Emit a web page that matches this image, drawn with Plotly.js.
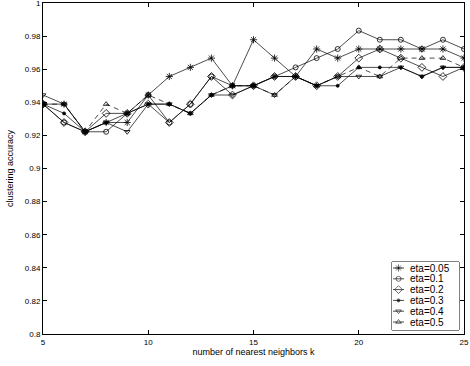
<!DOCTYPE html>
<html>
<head>
<meta charset="utf-8">
<script src="https://cdn.plot.ly/plotly-3.0.1.min.js"></script>
<style>
html,body{margin:0;padding:0;background:#fff;}
#chart{width:470px;height:366px;}
</style>
</head>
<body>
<div id="chart"></div>
<script>
// ---- data ----
var kValues = [5,6,7,8,9,10,11,12,13,14,15,16,17,18,19,20,21,22,23,24,25];
var seriesNames = ["eta=0.05","eta=0.1","eta=0.2","eta=0.3","eta=0.4","eta=0.5"];
var eta005 = [0.9389,0.9389,0.9222,0.9278,0.9278,0.9444,0.9556,0.9611,0.9667,0.9500,0.9778,0.9667,0.9556,0.9722,0.9667,0.9722,0.9722,0.9722,0.9722,0.9722,0.9667];
var eta01  = [0.9389,0.9278,0.9222,0.9222,0.9333,0.9444,0.9278,0.9389,0.9556,0.9500,0.9500,0.9556,0.9611,0.9667,0.9722,0.9833,0.9778,0.9778,0.9722,0.9778,0.9722];
var eta02  = [0.9389,0.9278,0.9222,0.9333,0.9333,0.9389,0.9278,0.9389,0.9556,0.9444,0.9500,0.9556,0.9556,0.9500,0.9556,0.9667,0.9722,0.9667,0.9611,0.9556,0.9611];
var eta03  = [0.9389,0.9333,0.9222,0.9278,0.9333,0.9389,0.9389,0.9333,0.9444,0.9500,0.9500,0.9556,0.9556,0.9500,0.9500,0.9611,0.9611,0.9611,0.9556,0.9611,0.9611];
var eta04  = [0.9444,0.9389,0.9222,0.9278,0.9222,0.9389,0.9389,0.9333,0.9444,0.9444,0.9500,0.9444,0.9556,0.9500,0.9556,0.9556,0.9556,0.9611,0.9556,0.9611,0.9611];
var eta05  = [0.9389,0.9389,0.9222,0.9389,0.9333,0.9444,0.9389,0.9333,0.9444,0.9500,0.9500,0.9444,0.9556,0.9500,0.9556,0.9611,0.9556,0.9667,0.9667,0.9667,0.9611];
var xTicks = [5,10,15,20,25];
var yTicks = [0.8,0.82,0.84,0.86,0.88,0.9,0.92,0.94,0.96,0.98,1];

// ---- styles ----
var allSeries = [eta005, eta01, eta02, eta03, eta04, eta05];
var styles = [
  {symbol:'asterisk-open', size:6, dash:'solid'},
  {symbol:'circle-open', size:5, dash:'solid'},
  {symbol:'diamond-open', size:6, dash:'solid'},
  {symbol:'circle', size:3, dash:'solid'},
  {symbol:'triangle-down-open', size:5, dash:'solid'},
  {symbol:'triangle-up-open', size:5, dash:'5px,4px'}
];

var traces = [];
allSeries.forEach(function(vals, i){
  traces.push({
    x: kValues, y: vals, type:'scatter', mode:'lines+markers',
    name: seriesNames[i], showlegend:false,
    line:{color:'#000', width:0.7, dash:styles[i].dash},
    marker:{symbol:styles[i].symbol, size:styles[i].size, color:'#000',
            line:{color:'#000', width:0.8}},
    xaxis:'x', yaxis:'y', hoverinfo:'skip'
  });
});

// ---- custom legend (drawn on an auxiliary hidden axis pair) ----
var annotations = [];
seriesNames.forEach(function(nm, i){
  traces.push({
    x:[393, 398.5, 404], y:[i,i,i], type:'scatter', mode:'lines+markers',
    showlegend:false, xaxis:'x2', yaxis:'y2', hoverinfo:'skip',
    line:{color:'#000', width:0.7},
    marker:{symbol:styles[i].symbol, size:[0, styles[i].size, 0], color:'#000',
            line:{color:'#000', width:0.8}}
  });
  annotations.push({
    x:408, y:i, xref:'x2', yref:'y2', text:nm, showarrow:false,
    xanchor:'left', yanchor:'middle',
    font:{family:'Liberation Sans, Arial, sans-serif', size:10, color:'#000'}
  });
});

var L = 43, R = 6, T = 3, B = 32, W = 470, H = 366;
var pw = W - L - R, ph = H - T - B;
function px2x(p){ return (p - L) / pw; }
function py2y(p){ return (H - B - p) / ph; }
var boxX0 = 392, boxX1 = 459, boxY0 = 262, boxY1 = 330;

var layout = {
  width: W, height: H,
  margin:{l:L, r:R, t:T, b:B, pad:0},
  paper_bgcolor:'#fff', plot_bgcolor:'#fff',
  font:{family:'Liberation Sans, Arial, sans-serif', size:8, color:'#000'},
  xaxis:{
    range:[5,25], tickvals:xTicks, ticks:'inside', ticklen:4, tickwidth:1,
    tickcolor:'#000', showline:true, linecolor:'#000', linewidth:1,
    mirror:'ticks', showgrid:false, zeroline:false, domain:[0,1],
    tickfont:{size:8}, automargin:false, ticklabeloverflow:'allow',
    title:{text:'number of nearest neighbors k', font:{size:9}, standoff:3}
  },
  yaxis:{
    range:[0.8,1], tickvals:yTicks, ticks:'inside', ticklen:4, tickwidth:1,
    tickcolor:'#000', showline:true, linecolor:'#000', linewidth:1,
    mirror:'ticks', showgrid:false, zeroline:false, domain:[0,1],
    tickfont:{size:8}, automargin:false, ticklabeloverflow:'allow',
    title:{text:'clustering accuracy', font:{size:9}, standoff:9}
  },
  xaxis2:{
    domain:[px2x(boxX0), px2x(boxX1)], range:[boxX0, boxX1], anchor:'y2',
    visible:false, showgrid:false, zeroline:false, fixedrange:true
  },
  yaxis2:{
    domain:[py2y(boxY1), py2y(boxY0)], range:[5 + 8/10.8, -6/10.8], anchor:'x2',
    visible:false, showgrid:false, zeroline:false, fixedrange:true
  },
  shapes:[{
    type:'rect', xref:'paper', yref:'paper',
    x0:px2x(boxX0), x1:px2x(boxX1), y0:py2y(boxY1), y1:py2y(boxY0),
    line:{color:'#000', width:1}, fillcolor:'#fff', layer:'below'
  }],
  annotations: annotations,
  showlegend:false
};

Plotly.newPlot('chart', traces, layout, {staticPlot:true, displayModeBar:false});
</script>
</body>
</html>
